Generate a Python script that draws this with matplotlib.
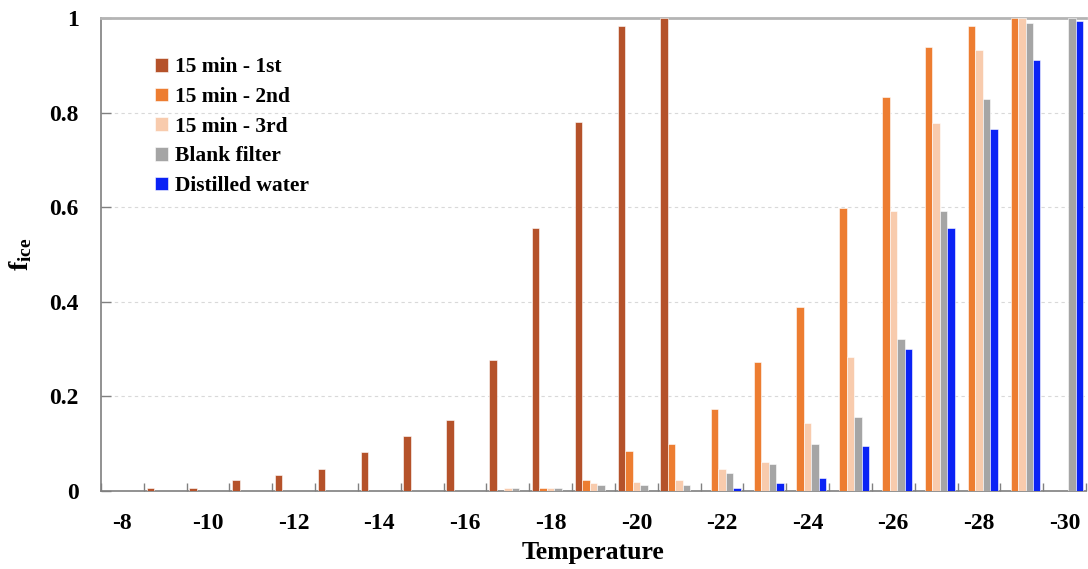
import numpy as np
import matplotlib
matplotlib.use("Agg")
import matplotlib.pyplot as plt

plt.rcParams['font.family'] = ['Liberation Serif', 'DejaVu Serif']
plt.rcParams['font.weight'] = 'bold'
plt.rcParams['mathtext.fontset'] = 'custom'
plt.rcParams['mathtext.rm'] = 'Liberation Serif'
plt.rcParams['mathtext.bf'] = 'Liberation Serif:bold'
plt.rcParams['mathtext.it'] = 'Liberation Serif:italic:bold'

temperatures = [-8, -9, -10, -11, -12, -13, -14, -15, -16, -17, -18, -19, -20,
                -21, -22, -23, -24, -25, -26, -27, -28, -29, -30]
nan = np.nan
min15_1st = [0, 0.006, 0.006, 0.023, 0.033, 0.046, 0.083, 0.116, 0.150, 0.277,
             0.555, 0.780, 0.984, 1.0, nan, nan, nan, nan, nan, nan, nan, nan, nan]
min15_2nd = [0, 0, 0, 0, 0, 0, 0, 0, 0, 0, 0.006, 0.023, 0.085, 0.100, 0.173,
             0.273, 0.389, 0.599, 0.833, 0.938, 0.983, 1.0, nan]
min15_3rd = [0, 0, 0, 0, 0, 0, 0, 0, 0, 0.006, 0.006, 0.016, 0.018, 0.023, 0.046,
             0.062, 0.144, 0.283, 0.593, 0.778, 0.932, 1.0, nan]
blank_filter = [0, 0, 0, 0, 0, 0, 0, 0, 0, 0.006, 0.006, 0.012, 0.012, 0.012, 0.039,
                0.057, 0.099, 0.157, 0.322, 0.593, 0.828, 0.989, 1.0]
distilled_water = [0, 0, 0, 0, 0, 0, 0, 0, 0, 0, 0, 0, 0, 0, 0.007,
                   0.016, 0.0275, 0.095, 0.301, 0.556, 0.766, 0.911, 0.994]

series = [
    ("15 min - 1st", min15_1st, "#B5522A"),
    ("15 min - 2nd", min15_2nd, "#ED7D31"),
    ("15 min - 3rd", min15_3rd, "#F8CBAD"),
    ("Blank filter", blank_filter, "#A5A5A5"),
    ("Distilled water", distilled_water, "#0A22F5"),
]

fig = plt.figure(figsize=(10.88, 5.69), dpi=100)
ax = fig.add_axes([101/1088, 78/569, 985/1088, 473/569])

x = np.arange(len(temperatures))
w = 0.175
for i, (lab, vals, col) in enumerate(series):
    ax.bar(x + (i - 2) * w, np.asarray(vals, dtype=float), width=w, color=col,
           edgecolor='white', linewidth=0.4, label=lab, zorder=3)

ax.set_xlim(-0.5, len(temperatures) - 0.5)
ax.set_ylim(0, 1)

# x ticks: marks at category boundaries, labels every 2 categories at centers
ax.set_xticks(np.arange(-0.5, len(temperatures), 1.0))
ax.set_xticklabels([])
ax.tick_params(axis='x', which='major', direction='in', length=6, width=1, color='#808080')
ax.set_xticks(x[::2], minor=True)
ax.set_xticklabels([str(t) for t in temperatures[::2]], minor=True)
ax.tick_params(axis='x', which='minor', length=0, pad=16, labelsize=17)

yt = [0, 0.2, 0.4, 0.6, 0.8, 1.0]
ax.set_yticks(yt)
ax.set_yticklabels(["0", "0.2", "0.4", "0.6", "0.8", "1"])
ax.tick_params(axis='y', direction='in', length=7, width=1, color='#808080', pad=16, labelsize=17)

for yv in [0.2, 0.4, 0.6, 0.8]:
    ax.axhline(yv, color='#D9D9D9', lw=0.8, ls=(0, (3, 3)), zorder=1)

for s in ['left', 'bottom']:
    ax.spines[s].set_color('#7F7F7F')
    ax.spines[s].set_linewidth(1.2)
ax.spines['top'].set_color('#B4B4B4')
ax.spines['top'].set_linewidth(2)
ax.spines['right'].set_visible(False)

ax.set_xlabel("Temperature", fontsize=18.5, fontweight='bold', labelpad=5)
ax.set_ylabel(r"$\mathbf{f}_{\mathbf{ice}}$", fontsize=20, labelpad=11)

leg = ax.legend(loc='upper left', bbox_to_anchor=(0.046, 0.935), frameon=False,
                fontsize=15.5, handlelength=0.6, handleheight=0.6,
                handletextpad=0.35, labelspacing=0.45, borderaxespad=0)

fig.savefig("out.png", dpi=100)
